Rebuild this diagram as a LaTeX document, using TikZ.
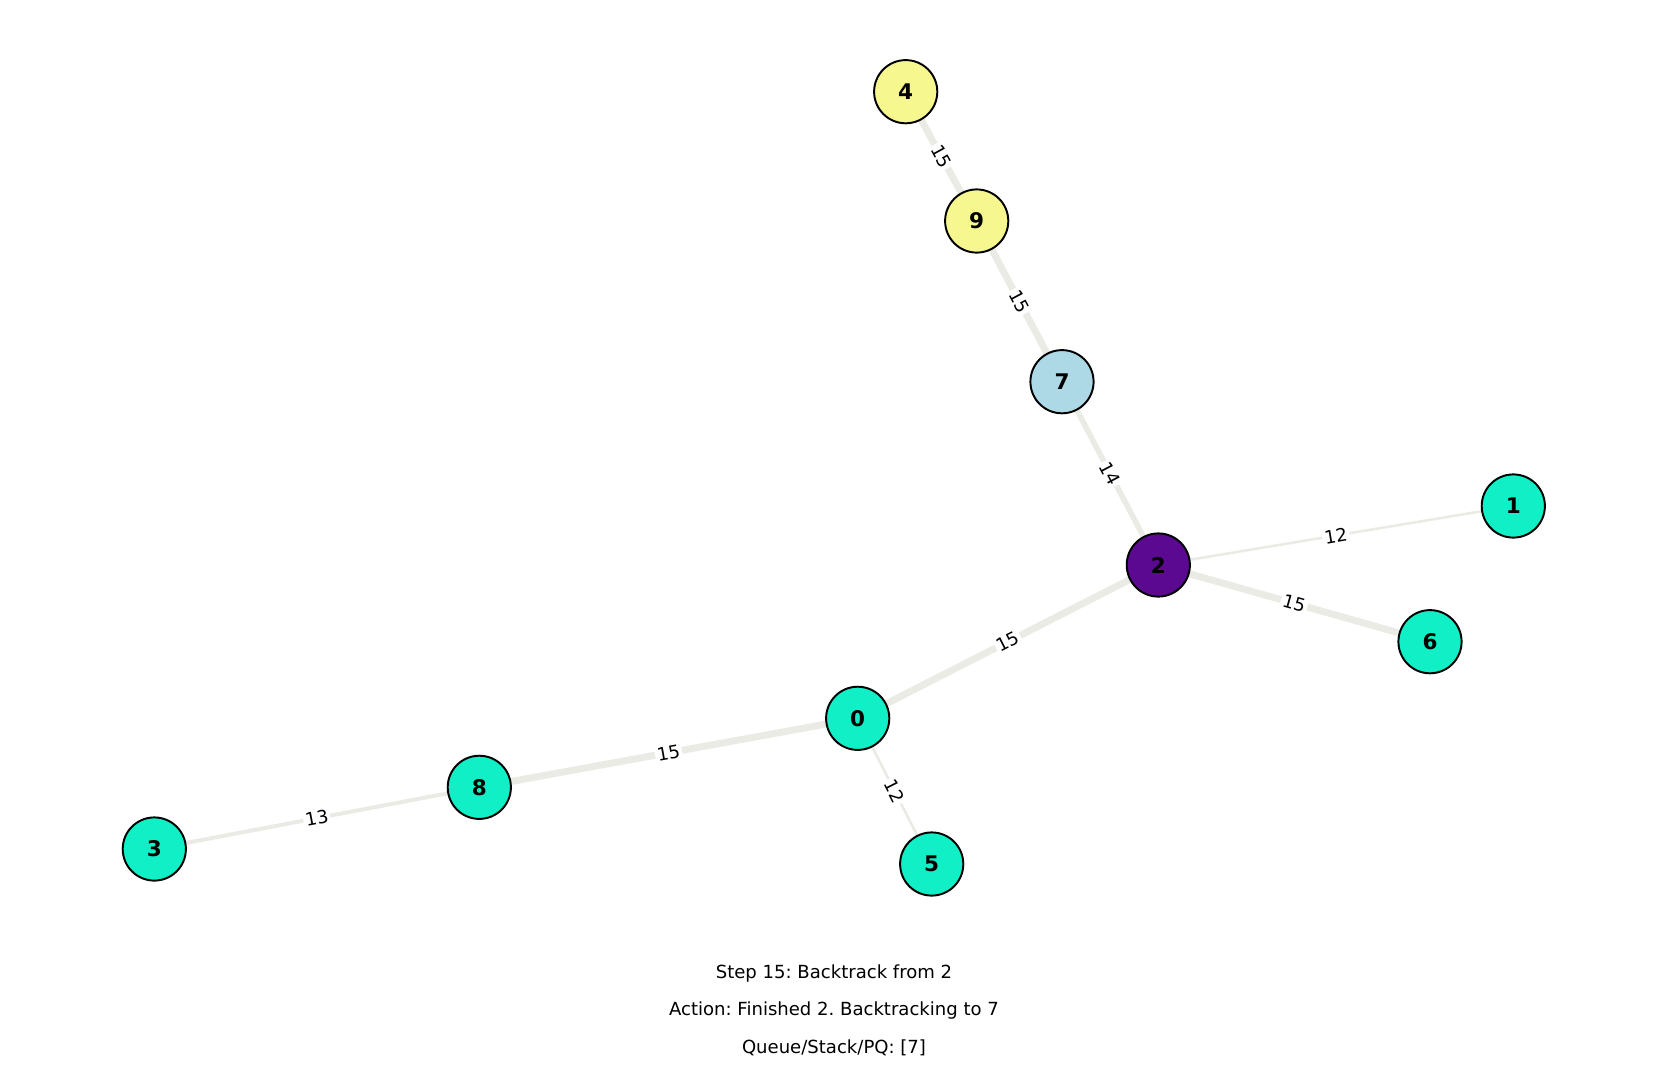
\documentclass[tikz,border=0pt]{standalone}
\usepackage{fontspec}
\setmainfont{DejaVu Sans}
\frenchspacing
\begin{document}
\begin{tikzpicture}[x=0.72pt,y=-0.72pt,
  vtx/.style={circle,draw=black,line width=1.4pt,minimum size=45.5pt,inner sep=0pt,font=\fontsize{15.5}{17}\selectfont\bfseries},
  teal/.style={vtx,fill=tealc},
  edg/.style={draw=edgec},
  w15/.style={edg,line width=5pt},
  w14/.style={edg,line width=4pt},
  w13/.style={edg,line width=2.9pt},
  w12/.style={edg,line width=1.9pt},
  elab/.style={fill=white,inner sep=1.5pt,sloped,pos=0.5,font=\fontsize{13}{15}\selectfont},
  info/.style={font=\fontsize{13}{15}\selectfont,inner sep=0pt}]
\definecolor{tealc}{RGB}{16,239,197}
\definecolor{purplec}{RGB}{92,9,145}
\definecolor{yellowc}{RGB}{247,247,143}
\definecolor{bluec}{RGB}{173,216,230}
\definecolor{edgec}{RGB}{235,235,229}
\useasboundingbox (0,0) rectangle (1667,1069);
\coordinate (p4) at (905.7,91.7);
\coordinate (p9) at (976.7,221);
\coordinate (p7) at (1062,381.7);
\coordinate (p2) at (1158.3,565);
\coordinate (p1) at (1513.3,506);
\coordinate (p6) at (1430,641.7);
\coordinate (p0) at (857.7,718.3);
\coordinate (p8) at (479.3,787.3);
\coordinate (p3) at (154.3,849);
\coordinate (p5) at (931.7,864);
% edges
\draw[w15] (p4) -- node[elab]{15} (p9);
\draw[w15] (p9) -- node[elab]{15} (p7);
\draw[w14] (p7) -- node[elab]{14} (p2);
\draw[w12] (p2) -- node[elab]{12} (p1);
\draw[w15] (p2) -- node[elab]{15} (p6);
\draw[w15] (p0) -- node[elab]{15} (p2);
\draw[w15] (p8) -- node[elab]{15} (p0);
\draw[w13] (p3) -- node[elab]{13} (p8);
\draw[w12] (p0) -- node[elab]{12} (p5);
% nodes
\node[vtx,fill=yellowc] (n4) at (p4) {4};
\node[vtx,fill=yellowc] (n9) at (p9) {9};
\node[vtx,fill=bluec] (n7) at (p7) {7};
\node[vtx,fill=purplec] (n2) at (p2) {2};
\node[teal] (n1) at (p1) {1};
\node[teal] (n6) at (p6) {6};
\node[teal] (n0) at (p0) {0};
\node[teal] (n8) at (p8) {8};
\node[teal] (n3) at (p3) {3};
\node[teal] (n5) at (p5) {5};
% info text
\node[info] (t1) at (834,974) {Step 15: Backtrack from 2};
\node[info] (t2) at (834,1011) {Action: Finished 2. Backtracking to 7};
\node[info] (t3) at (834,1048) {Queue/Stack/PQ: [7]};
\end{tikzpicture}
\end{document}
